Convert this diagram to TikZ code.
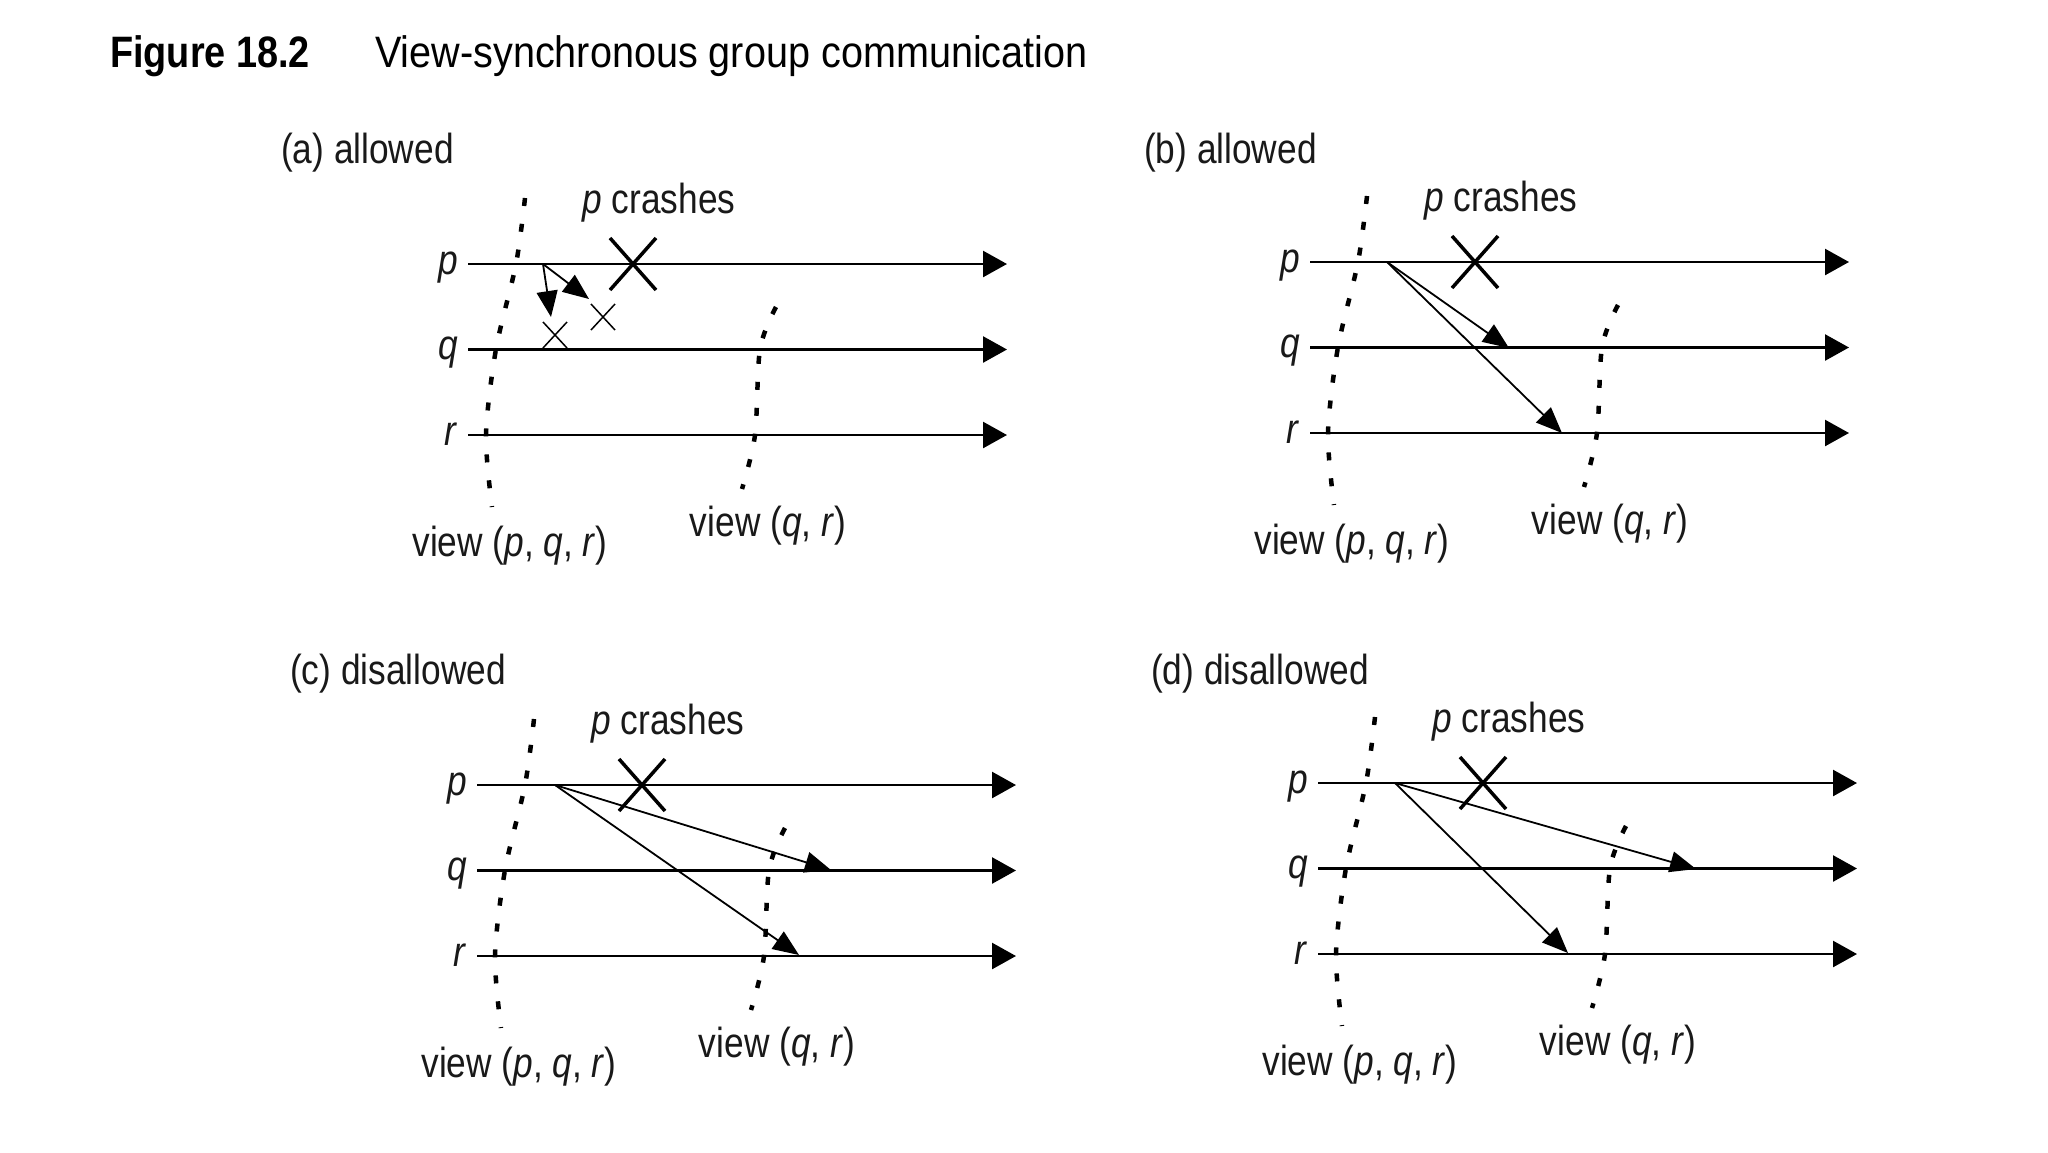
\documentclass[tikz,border=0pt]{standalone}
\usepackage{fontspec}
\setmainfont{Liberation Sans}[FakeStretch=0.84]
\newfontfamily\figboldfont{Liberation Sans}[FakeStretch=0.86]
\newfontfamily\figcapfont{Liberation Sans}[FakeStretch=0.9]
\usetikzlibrary{arrows.meta}

\tikzset{
  lab/.style={font=\fontsize{42}{50}\selectfont, inner sep=0pt, text=black!90},
  timeline/.style={line width=2.5pt, -{Triangle[length=24pt,width=26pt]}},
  msg/.style={line width=1.8pt, -{Triangle[length=26pt,width=21pt]}},
  crash/.style={line width=3.5pt},
  lost/.style={line width=1.5pt},
  viewline/.style={line width=4.5pt, dash pattern=on 8pt off 18pt},
}

\newcommand{\vsPanel}[4]{%
  \node[lab,anchor=base west] (#1-title) at (#3,#4) {#2};
  \coordinate (#1-ps) at (0,0);    \coordinate (#1-pe) at (539,0);
  \coordinate (#1-qs) at (0,85.5); \coordinate (#1-qe) at (539,85.5);
  \coordinate (#1-rs) at (0,171);  \coordinate (#1-re) at (539,171);
  \draw[timeline] (#1-ps) -- (#1-pe);
  \draw[timeline] (#1-qs) -- (#1-qe);
  \draw[timeline] (#1-rs) -- (#1-re);
  \node[lab,anchor=base east] (#1-p) at (-10,10) {\textit{p}};
  \node[lab,anchor=base east] (#1-q) at (-10,95.5) {\textit{q}};
  \node[lab,anchor=base east] (#1-r) at (-10,181) {\textit{r}};
  \draw[viewline] plot[smooth] coordinates {(57,-66) (48,0) (28,85) (18,171) (24,243)};
  \draw[viewline] plot[smooth] coordinates {(308,43) (292,85) (287,171) (274,225)};
  \node[lab,anchor=base] (#1-v1) at (42,292) {view (\textit{p}, \textit{q}, \textit{r})};
  \node[lab,anchor=base] (#1-v2) at (300,272) {view (\textit{q}, \textit{r})};
  \node[lab,anchor=base] (#1-crt) at (191,-51) {\textit{p} crashes};
  \coordinate (#1-x) at (165,0);
  \draw[crash] ([shift={(-23,-26)}]#1-x) -- ([shift={(23,26)}]#1-x);
  \draw[crash] ([shift={(-23,26)}]#1-x) -- ([shift={(23,-26)}]#1-x);
}

\begin{document}
\begin{tikzpicture}[x=1pt,y=-1pt]
\path[fill=white] (0,0) rectangle (2048,1152);
\useasboundingbox (0,0) rectangle (2048,1152);

\node[anchor=base west, inner sep=0pt, font=\figboldfont\bfseries\fontsize{44}{52}\selectfont] (figno) at (110,67) {Figure 18.2};
\node[anchor=base west, inner sep=0pt, font=\figcapfont\fontsize{44}{52}\selectfont] (figcap) at (375,67) {View-synchronous group communication};

% (a)
\begin{scope}[shift={(468,264)}]
  \vsPanel{a}{(a) allowed}{-187}{-101}
  \coordinate (a-m) at (75,0);
  \coordinate (a-t1) at (83,53);
  \coordinate (a-t2) at (121,35);
  \draw[msg] (a-m) -- (a-t1);
  \draw[msg] (a-m) -- (a-t2);
  \coordinate (a-l1) at (87,71);
  \coordinate (a-l2) at (135,53);
  \draw[lost] ([shift={(-12,-13)}]a-l1) -- ([shift={(12,13)}]a-l1);
  \draw[lost] ([shift={(-12,13)}]a-l1) -- ([shift={(12,-13)}]a-l1);
  \draw[lost] ([shift={(-12,-13)}]a-l2) -- ([shift={(12,13)}]a-l2);
  \draw[lost] ([shift={(-12,13)}]a-l2) -- ([shift={(12,-13)}]a-l2);
\end{scope}

% (b)
\begin{scope}[shift={(1310,262)}]
  \vsPanel{b}{(b) allowed}{-166}{-99}
  \coordinate (b-m) at (77,0);
  \coordinate (b-tq) at (199,86);
  \coordinate (b-tr) at (252,171);
  \draw[msg] (b-m) -- (b-tq);
  \draw[msg] (b-m) -- (b-tr);
\end{scope}

% (c)
\begin{scope}[shift={(477,785)}]
  \vsPanel{c}{(c) disallowed}{-187}{-101}
  \coordinate (c-m) at (78,0);
  \coordinate (c-tq) at (354,85);
  \coordinate (c-tr) at (322,170);
  \draw[msg] (c-m) -- (c-tq);
  \draw[msg] (c-m) -- (c-tr);
\end{scope}

% (d)
\begin{scope}[shift={(1318,783)}]
  \vsPanel{d}{(d) disallowed}{-167}{-99}
  \coordinate (d-m) at (77,0);
  \coordinate (d-tq) at (378,86);
  \coordinate (d-tr) at (250,170);
  \draw[msg] (d-m) -- (d-tq);
  \draw[msg] (d-m) -- (d-tr);
\end{scope}
\end{tikzpicture}
\end{document}
